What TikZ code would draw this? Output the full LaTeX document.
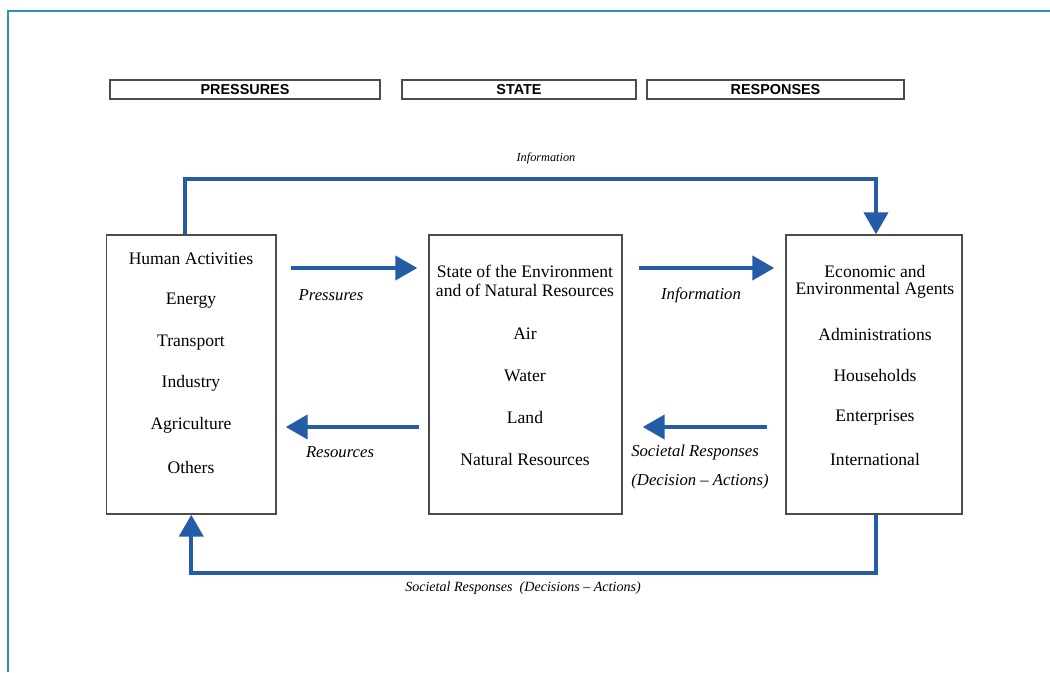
\documentclass[tikz,border=0pt]{standalone}
\usepackage{fontspec}
\setmainfont{Liberation Serif}
\newfontfamily\headfont{Liberation Sans}
\usetikzlibrary{arrows.meta}
\definecolor{flowblue}{RGB}{36,92,168}
\definecolor{framebl}{RGB}{48,142,196}
\tikzset{
  bigbox/.style={draw=black!70, line width=0.8pt, minimum height=5.58cm},
  headbox/.style={draw=black!70, line width=0.8pt, minimum height=0.38cm, inner sep=0pt,
    font=\headfont\bfseries\fontsize{8.2}{9}\selectfont},
  item/.style={font=\fontsize{10}{12}\selectfont, inner sep=0pt},
  lbl/.style={font=\itshape\fontsize{9.5}{11}\selectfont, inner sep=0pt},
  flow/.style={draw=flowblue, line width=2.4pt, -{Triangle[length=4.4mm,width=4.8mm]}},
}
\begin{document}
\begin{tikzpicture}
  \useasboundingbox (0,0) rectangle (21,13.44);
  % outer frame
  \draw[framebl, line width=1.6pt] (0.16,0) -- (0.16,13.22) -- (21,13.22);
  % header boxes
  \node[headbox, minimum width=5.4cm] (hpres) at (4.9,11.65) {PRESSURES};
  \node[headbox, minimum width=4.68cm] (hstate) at (10.38,11.65) {STATE};
  \node[headbox, minimum width=5.14cm] (hresp) at (15.51,11.65) {RESPONSES};
  % main boxes
  \node[bigbox, minimum width=3.39cm] (pres) at (3.825,5.95) {};
  \node[bigbox, minimum width=3.86cm] (state) at (10.51,5.95) {};
  \node[bigbox, minimum width=3.52cm] (resp) at (17.48,5.95) {};
  % box texts
  \node[item] (p0) at (3.82,8.26) {Human Activities};
  \foreach \t [count=\i] in {Energy,Transport,Industry,Agriculture,Others} {
    \node[item] (p\i) at (3.82,{8.26-0.832*\i}) {\t};
  }
  \node[item] (s0) at (10.5,8.02) {State of the Environment};
  \node[item] (s00) at (10.5,7.64) {and of Natural Resources};
  \foreach \t [count=\i] in {Air,Water,Land,Natural Resources} {
    \node[item] (s\i) at (10.5,{7.59-0.833*\i}) {\t};
  }
  \node[item] (r0) at (17.5,8.02) {Economic and};
  \node[item] (r00) at (17.5,7.64) {Environmental Agents};
  \foreach \t [count=\i] in {Administrations,Households,Enterprises,International} {
    \node[item] (r\i) at (17.5,{7.59-0.833*\i}) {\t};
  }
  % arrows between boxes
  \draw[flow, shorten <=2.8mm, shorten >=2.2mm] ([yshift=2.13cm]pres.east) -- ([yshift=2.13cm]state.west);
  \draw[flow, shorten <=1.8mm, shorten >=1.8mm] ([yshift=-1.05cm]state.west) -- ([yshift=-1.05cm]pres.east);
  \draw[flow, shorten <=3.2mm, shorten >=2.2mm] ([yshift=2.13cm]state.east) -- ([yshift=2.13cm]resp.west);
  \draw[flow, shorten <=3.6mm, shorten >=4mm] ([yshift=-1.05cm]resp.west) -- ([yshift=-1.05cm]state.east);
  \node[lbl] (lpres) at (6.62,7.54) {Pressures};
  \node[lbl] (lres) at (6.8,4.4) {Resources};
  \node[lbl] (linf) at (14.02,7.54) {Information};
  \node[lbl] (lsoc) at (13.9,4.4) {Societal Responses};
  \node[lbl] (lsoc2) at (14.0,3.82) {(Decision -- Actions)};
  % loops
  \draw[flow] ([xshift=-1.2mm]pres.north) -- ++(0,1.1) -| ([xshift=0.4mm]resp.north);
  \node[lbl, font=\itshape\fontsize{7}{8}\selectfont] (ltop) at (10.92,10.28) {Information};
  \draw[flow] ([xshift=0.4mm]resp.south) -- ++(0,-1.16) -| (pres.south);
  \node[lbl, font=\itshape\fontsize{8}{9}\selectfont] (lbot) at (10.46,1.68) {Societal Responses \ (Decisions -- Actions)};
\end{tikzpicture}
\end{document}
